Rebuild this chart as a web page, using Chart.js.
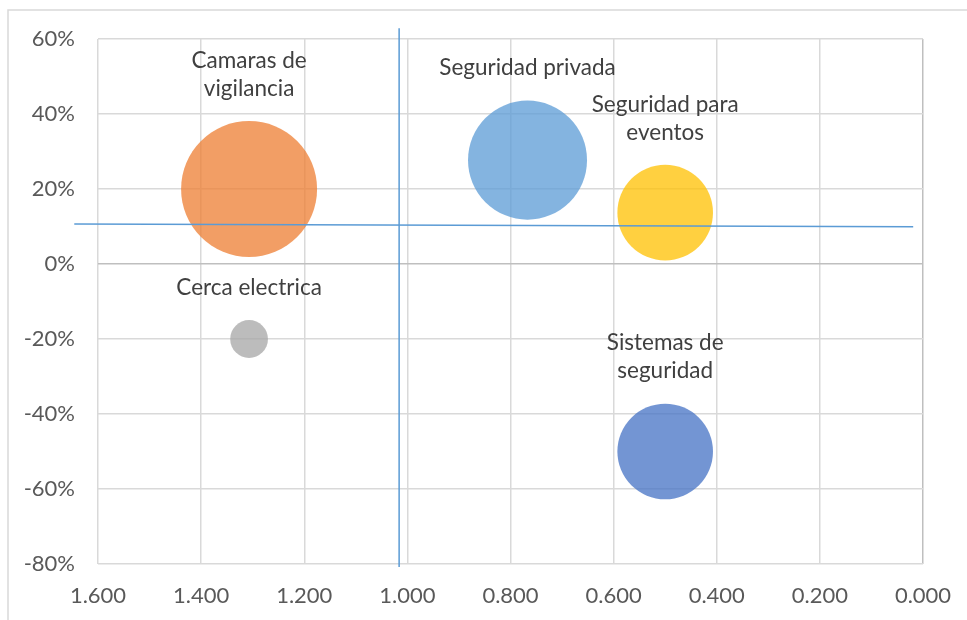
<!DOCTYPE html>
<html>
<head>
<meta charset="utf-8">
<script src="https://cdn.jsdelivr.net/npm/chart.js@4/dist/chart.umd.min.js"></script>
<style>
  html, body { margin: 0; padding: 0; background: #ffffff; }
  canvas { display: block; }
</style>
</head>
<body>
<canvas id="matriz" width="967" height="620"></canvas>
<script>
// Productos (etiquetas en varias líneas)
const productos = [
  ['Camaras de', 'vigilancia'],
  ['Seguridad privada'],
  ['Seguridad para', 'eventos'],
  ['Cerca electrica'],
  ['Sistemas de', 'seguridad']
];
// Participación relativa de mercado (eje X, invertido)
const participacionRelativa = [1.307, 0.767, 0.50, 1.307, 0.50];
// Tasa de crecimiento del mercado (eje Y)
const crecimiento = [0.20, 0.277, 0.137, -0.20, -0.50];
// Participación en ventas (tamaño de la burbuja)
const ventas = [0.35, 0.268, 0.173, 0.027, 0.173];
const colores = ['#ED7D31', '#5B9BD5', '#FFC000', '#A5A5A5', '#4472C4'];

// Líneas divisorias de los cuadrantes
const divisionVertical = [{ x: 1.016, y: 0.629 }, { x: 1.016, y: -0.808 }];
const divisionHorizontal = [{ x: 1.646, y: 0.1067 }, { x: 0.019, y: 0.0995 }];

const RADIO_MAX = 68;
const ventaMax = Math.max(...ventas);
const FUENTE = 'Lato, "Open Sans", sans-serif';

function conAlfa(hex, a) {
  const n = parseInt(hex.slice(1), 16);
  return `rgba(${(n >> 16) & 255},${(n >> 8) & 255},${n & 255},${a})`;
}

const burbujas = productos.map((p, i) => ({
  x: participacionRelativa[i],
  y: crecimiento[i],
  r: RADIO_MAX * Math.sqrt(ventas[i] / ventaMax)
}));

// Marco exterior del gráfico
const marco = {
  id: 'marco',
  beforeDraw(chart) {
    const ctx = chart.ctx;
    ctx.save();
    ctx.strokeStyle = '#D9D9D9';
    ctx.lineWidth = 1.5;
    ctx.strokeRect(8, 10, 1200, 1200);
    ctx.restore();
  }
};

// Etiquetas de cada burbuja, por encima de ella
const etiquetas = {
  id: 'etiquetas',
  afterDatasetsDraw(chart) {
    const ctx = chart.ctx;
    const meta = chart.getDatasetMeta(0);
    ctx.save();
    ctx.font = '22.5px ' + FUENTE;
    ctx.fillStyle = '#404040';
    ctx.textAlign = 'center';
    ctx.textBaseline = 'middle';
    meta.data.forEach((el, i) => {
      const lineas = productos[i];
      const base = el.y - el.options.radius - 32.5;
      lineas.forEach((t, j) => {
        ctx.fillText(t, el.x, base - (lineas.length - 1 - j) * 28);
      });
    });
    ctx.restore();
  }
};

const esCero = v => Math.abs(v) < 1e-9;

new Chart(document.getElementById('matriz'), {
  type: 'bubble',
  data: {
    datasets: [
      {
        data: burbujas,
        backgroundColor: colores.map(c => conAlfa(c, 0.75)),
        borderWidth: 0,
        order: 1
      },
      {
        type: 'line',
        data: divisionVertical,
        borderColor: '#5B9BD5',
        borderWidth: 1.5,
        pointRadius: 0,
        fill: false,
        clip: false,
        order: 0
      },
      {
        type: 'line',
        data: divisionHorizontal,
        borderColor: '#5B9BD5',
        borderWidth: 1.5,
        pointRadius: 0,
        fill: false,
        clip: false,
        order: 0
      }
    ]
  },
  options: {
    responsive: false,
    animation: false,
    events: [],
    layout: { autoPadding: false, padding: { left: 0, right: 44, top: 39, bottom: 0 } },
    plugins: {
      legend: { display: false },
      tooltip: { enabled: false }
    },
    scales: {
      x: {
        type: 'linear',
        reverse: true,
        min: 0,
        max: 1.6,
        afterFit: s => { s.height = 56; s.paddingLeft = 0; s.paddingRight = 0; },
        border: { display: false },
        grid: {
          color: c => esCero(c.tick.value) ? '#BFBFBF' : '#D9D9D9',
          lineWidth: 1.5,
          drawTicks: false
        },
        ticks: {
          stepSize: 0.2,
          padding: 19,
          color: '#595959',
          font: { family: FUENTE, size: 22 },
          maxRotation: 0,
          callback: v => v.toFixed(3)
        }
      },
      y: {
        type: 'linear',
        min: -0.8,
        max: 0.6,
        afterFit: s => { s.width = 98; s.paddingTop = 0; s.paddingBottom = 0; },
        border: { display: false },
        grid: {
          color: c => esCero(c.tick.value) ? '#BFBFBF' : '#D9D9D9',
          lineWidth: 1.5,
          drawTicks: false
        },
        ticks: {
          stepSize: 0.2,
          padding: 23,
          color: '#595959',
          font: { family: FUENTE, size: 22 },
          callback: v => Math.round(v * 100) + '%'
        }
      }
    }
  },
  plugins: [marco, etiquetas]
});
</script>
</body>
</html>
